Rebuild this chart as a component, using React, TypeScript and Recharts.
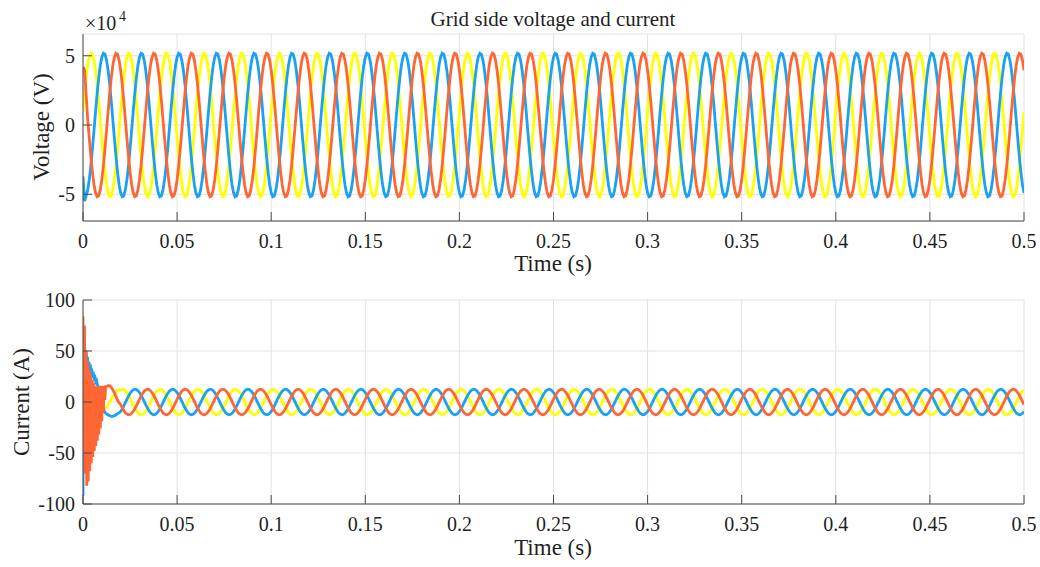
import { LineChart, Line, XAxis, YAxis, CartesianGrid } from 'recharts';

// axis ticks
const timeTicks = [0, 0.05, 0.1, 0.15, 0.2, 0.25, 0.3, 0.35, 0.4, 0.45, 0.5];
const voltageTicks = [-5, 0, 5];
const currentTicks = [-100, -50, 0, 50, 100];

// 50 Hz, 24 samples per cycle, 25 cycles in 0.5 s
const SAMPLES_PER_CYCLE = 24;
const CYCLES = 25;
const STEP = 0.02 / SAMPLES_PER_CYCLE;

// steady-state voltage, one cycle (x10^4 V)
const voltageYellowCycle = [0.95, 2.24, 3.38, 4.29, 4.9, 5.18, 5.11, 4.69, 3.95, 2.95, 1.74, 0.41, -0.95, -2.24, -3.38, -4.29, -4.9, -5.18, -5.11, -4.69, -3.95, -2.95, -1.74, -0.41];
const voltageBlueCycle = [-4.9, -5.18, -5.11, -4.69, -3.95, -2.95, -1.74, -0.41, 0.95, 2.24, 3.38, 4.29, 4.9, 5.18, 5.11, 4.69, 3.95, 2.95, 1.74, 0.41, -0.95, -2.24, -3.38, -4.29];
const voltageOrangeCycle = [3.95, 2.95, 1.74, 0.41, -0.95, -2.24, -3.38, -4.29, -4.9, -5.18, -5.11, -4.69, -3.95, -2.95, -1.74, -0.41, 0.95, 2.24, 3.38, 4.29, 4.9, 5.18, 5.11, 4.69];

// first samples of the voltage (start-up disturbance)
const voltageStartBlue = [-3.7, -5.5];
const voltageStartOrange = [4.2, 4.0, 2.2];

// steady-state current, one cycle (A)
const currentYellowCycle = [11.9, 12.5, 12.2, 11.1, 9.3, 6.8, 3.9, 0.7, -2.6, -5.7, -8.4, -10.5, -11.9, -12.5, -12.2, -11.1, -9.3, -6.8, -3.9, -0.7, 2.6, 5.7, 8.4, 10.5];
const currentBlueCycle = [-9.3, -6.8, -3.9, -0.7, 2.6, 5.7, 8.4, 10.5, 11.9, 12.5, 12.2, 11.1, 9.3, 6.8, 3.9, 0.7, -2.6, -5.7, -8.4, -10.5, -11.9, -12.5, -12.2, -11.1];
const currentOrangeCycle = [-2.6, -5.7, -8.4, -10.5, -11.9, -12.5, -12.2, -11.1, -9.3, -6.8, -3.9, -0.7, 2.6, 5.7, 8.4, 10.5, 11.9, 12.5, 12.2, 11.1, 9.3, 6.8, 3.9, 0.7];

// current start-up transient, first cycle (A)
const currentStartTime = [0, 0.0004, 0.0008, 0.0012, 0.0016, 0.002, 0.0024, 0.0028, 0.0032, 0.0036, 0.004, 0.0044, 0.0048, 0.0052, 0.0056, 0.006, 0.0064, 0.0068, 0.0072, 0.0076, 0.008, 0.0084, 0.0088, 0.0092, 0.0096, 0.01, 0.0104, 0.0108, 0.0112, 0.0116, 0.012, 0.0125, 0.0133, 0.0142, 0.015, 0.0158, 0.0167, 0.0175, 0.0183, 0.0192];
const currentStartYellow = [5, 20, -10, 15, -15, 10, -12, 5, -10, 0, -8, -2, -6, -4, -6, -5, -6, -6, -7, -7, -8, -8, -8, -8, -8, -8, -8, -8, -7, -6, -6, -5, -3, -0.5, 2.5, 5.5, 8, 10, 11.5, 12.2];
const currentStartBlue = [-92, 52, 55, 46, 50, 42, 44, 37, 39, 33, 34, 29, 30, 26, 27, 23, 24, 20, 21, 17, 16, 11, 6, 1, -3, -6, -5, -6, -8, -10, -11, -11.5, -12.5, -13.5, -14, -14, -13.5, -12.5, -11.5, -10.5];
const currentStartOrange = [84, -50, 75, -70, 50, -82, 40, -78, 32, -68, 27, -60, 22, -54, 19, -48, 16, -43, 15, -38, 14, -32, 15, -26, 16, -19, 16, -11, 16, 2, 15, 15, 16, 16, 14.5, 12, 9, 5.5, 2, -1];

const YELLOW = '#FFFF00';
const BLUE = '#1AA1F2';
const ORANGE = '#FF6633';
const FONT = "'Liberation Serif', 'Times New Roman', serif";
const AXIS_COLOR = '#4a4a4a';
const GRID_COLOR = '#e2e2e2';

const voltageData = Array.from({ length: CYCLES * SAMPLES_PER_CYCLE + 1 }, (_, k) => ({
  t: k * STEP,
  a: voltageYellowCycle[k % SAMPLES_PER_CYCLE],
  b: k < voltageStartBlue.length ? voltageStartBlue[k] : voltageBlueCycle[k % SAMPLES_PER_CYCLE],
  c: k < voltageStartOrange.length ? voltageStartOrange[k] : voltageOrangeCycle[k % SAMPLES_PER_CYCLE],
}));

const currentData = [
  ...currentStartTime.map((t, i) => ({
    t,
    a: currentStartYellow[i],
    b: currentStartBlue[i],
    c: currentStartOrange[i],
  })),
  ...Array.from({ length: (CYCLES - 1) * SAMPLES_PER_CYCLE + 1 }, (_, i) => {
    const k = i + SAMPLES_PER_CYCLE;
    return {
      t: k * STEP,
      a: currentYellowCycle[k % SAMPLES_PER_CYCLE],
      b: currentBlueCycle[k % SAMPLES_PER_CYCLE],
      c: currentOrangeCycle[k % SAMPLES_PER_CYCLE],
    };
  }),
];

const tickStyle = { fontFamily: FONT, fontSize: 20, fill: '#1f1f1f' };

function Panel({ data, domain, ticks, height, top, plotHeight }: {
  data: { t: number; a: number; b: number; c: number }[];
  domain: [number, number];
  ticks: number[];
  height: number;
  top: number;
  plotHeight: number;
}) {
  return (
    <LineChart
      width={1040}
      height={height}
      data={data}
      margin={{ top, right: 16, bottom: 0, left: 0 }}
    >
      <CartesianGrid stroke={GRID_COLOR} />
      <XAxis
        dataKey="t"
        type="number"
        domain={[0, 0.5]}
        ticks={timeTicks}
        allowDataOverflow
        height={height - top - plotHeight}
        tickSize={-9}
        tickMargin={22}
        tick={tickStyle}
        tickFormatter={(v: number) => String(v)}
        stroke={AXIS_COLOR}
      />
      <XAxis
        xAxisId="top"
        orientation="top"
        type="number"
        domain={[0, 0.5]}
        ticks={timeTicks}
        allowDataOverflow
        height={0}
        tickSize={-9}
        tick={false}
        stroke={AXIS_COLOR}
      />
      <YAxis
        type="number"
        domain={domain}
        ticks={ticks}
        allowDataOverflow
        width={83}
        tickSize={-9}
        tickMargin={17}
        tick={tickStyle}
        stroke={AXIS_COLOR}
      />
      <YAxis
        yAxisId="right"
        orientation="right"
        type="number"
        domain={domain}
        ticks={ticks}
        allowDataOverflow
        width={0}
        tickSize={-9}
        tick={false}
        stroke={AXIS_COLOR}
      />
      <Line type="linear" dataKey="a" stroke={YELLOW} strokeWidth={2.8} dot={false} isAnimationActive={false} />
      <Line type="linear" dataKey="b" stroke={BLUE} strokeWidth={2.8} dot={false} isAnimationActive={false} />
      <Line type="linear" dataKey="c" stroke={ORANGE} strokeWidth={2.8} dot={false} isAnimationActive={false} />
    </LineChart>
  );
}

export default function App() {
  return (
    <div style={{ position: 'absolute', left: 0, top: 0, width: 1040, height: 567, background: '#fff' }}>
      <div style={{ position: 'absolute', left: 0, top: 0 }}>
        <Panel data={voltageData} domain={[-6.93, 6.57]} ticks={voltageTicks} height={280} top={34} plotHeight={187} />
      </div>
      <div style={{ position: 'absolute', left: 0, top: 280 }}>
        <Panel data={currentData} domain={[-100, 100]} ticks={currentTicks} height={287} top={20} plotHeight={204} />
      </div>
      <svg
        width={1040}
        height={567}
        style={{ position: 'absolute', left: 0, top: 0, pointerEvents: 'none' }}
        fontFamily={FONT}
        fill="#1f1f1f"
      >
        <text x={553} y={26} fontSize={21} textAnchor="middle">Grid side voltage and current</text>
        <text x={85} y={29.5} fontSize={20}>×10</text>
        <text x={119} y={20.5} fontSize={14}>4</text>
        <text x={553} y={271} fontSize={23} textAnchor="middle">Time (s)</text>
        <text x={553} y={555} fontSize={23} textAnchor="middle">Time (s)</text>
        <text transform="translate(49,127) rotate(-90)" fontSize={23} textAnchor="middle">Voltage (V)</text>
        <text transform="translate(29,402) rotate(-90)" fontSize={23} textAnchor="middle">Current (A)</text>
      </svg>
    </div>
  );
}
